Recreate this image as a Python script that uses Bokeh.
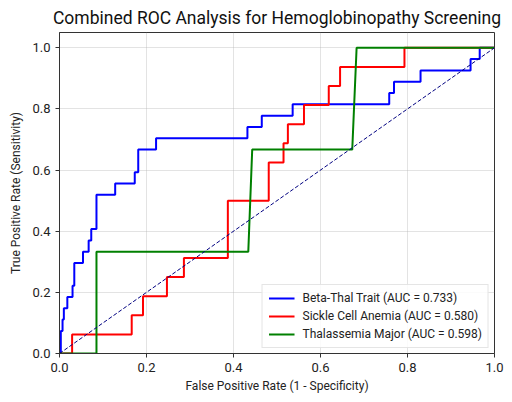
from bokeh.plotting import figure
from bokeh.models import Range1d, FixedTicker, Legend, LegendItem, NumeralTickFormatter
from bokeh.embed import file_html
from bokeh.resources import INLINE

# Data (ROC corner points)
beta_fpr = [0.0, 0.003, 0.003, 0.007, 0.007, 0.010, 0.010, 0.018, 0.018, 0.030, 0.030, 0.034, 0.034,
            0.054, 0.054, 0.067, 0.067, 0.073, 0.073, 0.085, 0.085, 0.128, 0.128, 0.173, 0.173,
            0.181, 0.181, 0.222, 0.222, 0.432, 0.432, 0.465, 0.465, 0.536, 0.536, 0.758, 0.758,
            0.769, 0.769, 0.830, 0.830, 0.945, 0.945, 0.966, 0.966, 1.0]
beta_tpr = [0.0, 0.0, 0.074, 0.074, 0.111, 0.111, 0.148, 0.148, 0.185, 0.185, 0.222, 0.222, 0.296,
            0.296, 0.333, 0.333, 0.370, 0.370, 0.407, 0.407, 0.519, 0.519, 0.556, 0.556, 0.593,
            0.593, 0.667, 0.667, 0.704, 0.704, 0.741, 0.741, 0.778, 0.778, 0.815, 0.815, 0.852,
            0.852, 0.889, 0.889, 0.926, 0.926, 0.963, 0.963, 1.0, 1.0]

sickle_fpr = [0.0, 0.029, 0.029, 0.166, 0.166, 0.192, 0.192, 0.247, 0.247, 0.286, 0.286, 0.387, 0.387,
              0.481, 0.481, 0.515, 0.515, 0.525, 0.525, 0.562, 0.562, 0.619, 0.619, 0.645, 0.645,
              0.793, 0.793, 1.0]
sickle_tpr = [0.0, 0.0, 0.0625, 0.0625, 0.125, 0.125, 0.1875, 0.1875, 0.25, 0.25, 0.3125, 0.3125, 0.5,
              0.5, 0.625, 0.625, 0.6875, 0.6875, 0.75, 0.75, 0.8125, 0.8125, 0.875, 0.875, 0.9375,
              0.9375, 1.0, 1.0]

thal_fpr = [0.0, 0.085, 0.085, 0.434, 0.443, 0.673, 0.683, 1.0]
thal_tpr = [0.0, 0.0, 0.333, 0.333, 0.667, 0.667, 1.0, 1.0]

labels = ["Beta-Thal Trait (AUC = 0.733)",
          "Sickle Cell Anemia (AUC = 0.580)",
          "Thalassemia Major (AUC = 0.598)"]
colors = ["blue", "red", "green"]
ticks = [0.0, 0.2, 0.4, 0.6, 0.8, 1.0]
diag = [0.0, 1.0]

FONT = "Roboto"

p = figure(width=512, height=402, output_backend="svg", toolbar_location=None,
           x_range=Range1d(0, 1), y_range=Range1d(0, 1.05),
           min_border_left=59, min_border_right=18, min_border_top=29, min_border_bottom=49,
           title="Combined ROC Analysis for Hemoglobinopathy Screening")

p.title.text_font = FONT
p.title.text_font_size = "17.5px"
p.title.text_font_style = "normal"
p.title.text_color = "#111111"
p.title.align = "center"
p.title.offset = 0

r1 = p.line(beta_fpr, beta_tpr, line_color=colors[0], line_width=2)
r2 = p.line(sickle_fpr, sickle_tpr, line_color=colors[1], line_width=2)
r3 = p.line(thal_fpr, thal_tpr, line_color=colors[2], line_width=2)
p.line(diag, diag, line_color="navy", line_width=1, line_dash="4 2")

legend = Legend(items=[LegendItem(label=labels[0], renderers=[r1]),
                       LegendItem(label=labels[1], renderers=[r2]),
                       LegendItem(label=labels[2], renderers=[r3])],
                location="bottom_right")
legend.label_text_font = FONT
legend.label_text_font_size = "12px"
legend.label_text_color = "#222222"
legend.glyph_width = 26
legend.glyph_height = 14
legend.label_height = 14
legend.spacing = 4
legend.padding = 6
legend.margin = 5
legend.label_standoff = 8
legend.border_line_color = "#cccccc"
legend.border_line_width = 1
legend.background_fill_alpha = 0.85
p.add_layout(legend)

for ax in (p.xaxis, p.yaxis):
    ax.ticker = FixedTicker(ticks=ticks)
    ax.formatter = NumeralTickFormatter(format="0.0")
    ax.major_label_text_font = FONT
    ax.major_label_text_font_size = "13px"
    ax.major_label_text_color = "#222222"
    ax.axis_label_text_font = FONT
    ax.axis_label_text_font_size = "12px"
    ax.axis_label_text_font_style = "normal"
    ax.axis_label_text_color = "#222222"
    ax.minor_tick_line_color = None
    ax.major_tick_in = 0
    ax.major_tick_out = 4
    ax.axis_line_color = "#333333"
    ax.major_tick_line_color = "#333333"

p.xaxis.axis_label = "False Positive Rate (1 - Specificity)"
p.yaxis.axis_label = "True Positive Rate (Sensitivity)"
p.xaxis.axis_label_standoff = 4
p.yaxis.axis_label_standoff = 6

p.xgrid.ticker = FixedTicker(ticks=ticks)
p.ygrid.ticker = FixedTicker(ticks=ticks)
p.grid.grid_line_color = "#b0b0b0"
p.grid.grid_line_alpha = 0.35
p.outline_line_color = "#333333"
p.outline_line_alpha = 1.0

open("out.html", "w").write(file_html(p, INLINE))
